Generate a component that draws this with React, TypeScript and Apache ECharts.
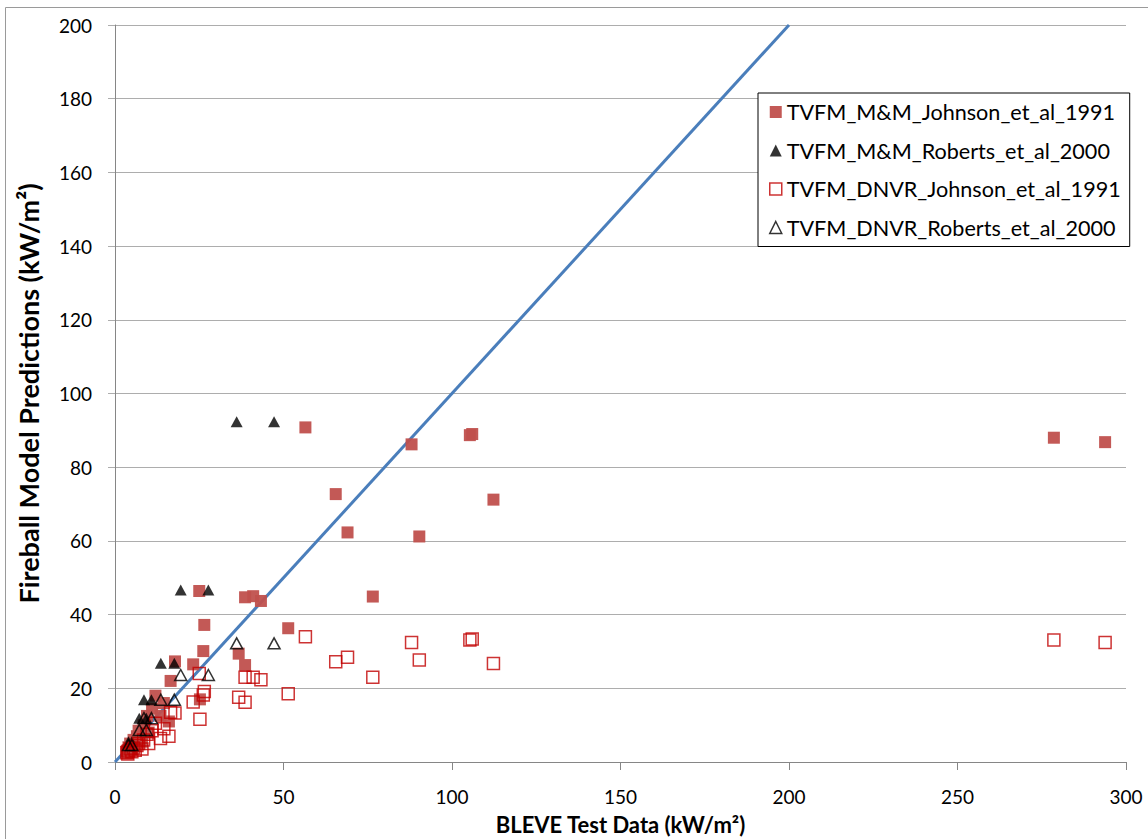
import React, { useEffect, useRef } from "react";
import * as echarts from "echarts";

// Johnson et al. (1991) tests: measured flux and the two model predictions
const johnsonX = [
  293.8, 278.6, 112.3, 106.0, 105.3, 90.3, 88.0, 76.5, 69.0, 65.5, 56.5, 51.4,
  43.3, 41.0, 38.6, 38.6, 36.7, 26.5, 26.2, 25.0, 25.2, 23.2, 17.8, 16.5,
  12.0, 11.0, 13.5, 9.5, 8.5, 10.0, 7.0, 6.5, 5.5, 6.0, 4.5, 4.0, 3.5, 5.0,
  8.0, 3.8, 14.5, 16.0,
];
const johnsonMM = [
  86.8, 88.0, 71.2, 89.0, 88.7, 61.2, 86.2, 44.9, 62.3, 72.7, 90.8, 36.3,
  43.7, 45.0, 44.7, 26.3, 29.4, 37.2, 30.1, 46.4, 17.0, 26.5, 27.3, 22.0,
  18.0, 14.5, 12.5, 12.5, 10.0, 8.0, 8.5, 7.0, 6.0, 4.5, 5.0, 4.0, 3.0, 3.5,
  5.5, 2.5, 16.0, 11.0,
];
const johnsonDNVR = [
  32.4, 33.1, 26.7, 33.4, 33.1, 27.7, 32.4, 23.0, 28.4, 27.2, 34.0, 18.5,
  22.3, 23.0, 23.0, 16.2, 17.6, 19.1, 18.2, 24.0, 11.6, 16.3, 13.3, 13.5,
  10.5, 8.5, 6.4, 7.5, 6.0, 5.0, 5.0, 4.5, 3.8, 3.2, 3.5, 3.0, 2.5, 2.8,
  3.5, 2.2, 9.0, 7.0,
];

// Roberts et al. (2000) tests
const robertsX = [36.1, 47.2, 19.5, 27.7, 13.6, 17.6, 8.6, 10.8, 7.2, 9.3, 4.0, 5.0];
const robertsMM = [92.3, 92.3, 46.7, 46.7, 26.8, 26.8, 16.9, 16.9, 11.9, 11.9, 5.5, 5.5];
const robertsDNVR = [32.2, 32.2, 23.6, 23.6, 16.9, 16.9, 11.9, 11.9, 8.7, 8.7, 4.6, 4.6];

// 1:1 reference line
const parityLine = [
  [0, 0],
  [200, 200],
];

const seriesNames = [
  "TVFM_M&M_Johnson_et_al_1991",
  "TVFM_M&M_Roberts_et_al_2000",
  "TVFM_DNVR_Johnson_et_al_1991",
  "TVFM_DNVR_Roberts_et_al_2000",
];

const FONT = "Lato, 'Liberation Sans', sans-serif";
const FILL_RED = "#C0504D";
const LINE_RED = "#C00000";
const GRID_GREY = "#ADADAD";

const pairs = (xs: number[], ys: number[]) => xs.map((x, i) => [x, ys[i]]);

export default function App() {
  const ref = useRef<HTMLDivElement>(null);

  useEffect(() => {
    document.body.style.margin = "0";
    if (!ref.current) return;
    const chart = echarts.init(ref.current, undefined, { renderer: "svg" });

    chart.setOption({
      animation: false,
      backgroundColor: "#fff",
      grid: { left: 115, right: 22, top: 25, bottom: 77, outerBoundsMode: "none" },
      graphic: [
        {
          type: "rect",
          x: 5.5,
          y: 7.5,
          shape: { x: 0, y: 0, width: 1300, height: 1000 },
          style: { fill: "none", stroke: "#9A9A9A", lineWidth: 1 },
          silent: true,
          z: -10,
        },
      ],
      legend: {
        orient: "vertical",
        left: 758,
        top: 93,
        padding: [8, 9, 8, 11],
        itemGap: 16.5,
        itemWidth: 12,
        itemHeight: 12,
        borderColor: "#000",
        borderWidth: 1,
        backgroundColor: "#fff",
        textStyle: { fontFamily: FONT, fontSize: 21.6, color: "#000" },
        data: [
          { name: seriesNames[0], icon: "rect", itemStyle: { color: FILL_RED } },
          { name: seriesNames[1], icon: "triangle", itemStyle: { color: "#000" } },
          {
            name: seriesNames[2],
            icon: "rect",
            itemStyle: { color: "#fff", borderColor: LINE_RED, borderWidth: 1.5 },
          },
          {
            name: seriesNames[3],
            icon: "triangle",
            itemStyle: { color: "#fff", borderColor: "#000", borderWidth: 1.5 },
          },
        ],
      },
      xAxis: {
        type: "value",
        min: 0,
        max: 300,
        interval: 50,
        name: "BLEVE Test Data (kW/m²)",
        nameLocation: "middle",
        nameGap: 51,
        nameTextStyle: { fontFamily: FONT, fontSize: 22, fontWeight: "bold", color: "#000" },
        axisLine: { show: true, lineStyle: { color: "#868686", width: 1 } },
        axisTick: { show: true, length: 8, lineStyle: { color: "#868686" } },
        axisLabel: { fontFamily: FONT, fontSize: 19, color: "#000", margin: 25 },
        splitLine: { show: false },
      },
      yAxis: {
        type: "value",
        min: 0,
        max: 200,
        interval: 20,
        name: "Fireball Model Predictions (kW/m²)",
        nameLocation: "middle",
        nameGap: 73,
        nameTextStyle: { fontFamily: FONT, fontSize: 27, fontWeight: "bold", color: "#000" },
        axisLine: { show: true, lineStyle: { color: "#868686", width: 1 } },
        axisTick: { show: true, length: 7, lineStyle: { color: GRID_GREY } },
        axisLabel: { fontFamily: FONT, fontSize: 19, color: "#000", margin: 23 },
        splitLine: { show: true, lineStyle: { color: GRID_GREY, width: 1.2 } },
      },
      series: [
        {
          type: "line",
          name: "parity",
          data: parityLine,
          showSymbol: false,
          symbol: "none",
          lineStyle: { color: "#4A7EBB", width: 3 },
          z: 1,
          silent: true,
        },
        {
          type: "scatter",
          name: seriesNames[0],
          data: pairs(johnsonX, johnsonMM),
          symbol: "rect",
          symbolSize: 12,
          itemStyle: { color: FILL_RED, opacity: 0.95 },
          z: 2,
        },
        {
          type: "scatter",
          name: seriesNames[1],
          data: pairs(robertsX, robertsMM),
          symbol: "triangle",
          symbolSize: [12, 11],
          itemStyle: { color: "#000" },
          z: 3,
        },
        {
          type: "scatter",
          name: seriesNames[2],
          data: pairs(johnsonX, johnsonDNVR),
          symbol: "rect",
          symbolSize: 12,
          itemStyle: { color: "rgba(255,255,255,0)", borderColor: LINE_RED, borderWidth: 1.5 },
          z: 4,
        },
        {
          type: "scatter",
          name: seriesNames[3],
          data: pairs(robertsX, robertsDNVR),
          symbol: "triangle",
          symbolSize: [12, 11],
          itemStyle: { color: "rgba(255,255,255,0)", borderColor: "#000", borderWidth: 1.5 },
          z: 5,
        },
      ],
    });

    return () => chart.dispose();
  }, []);

  return <div ref={ref} style={{ width: 1148, height: 839 }} />;
}
